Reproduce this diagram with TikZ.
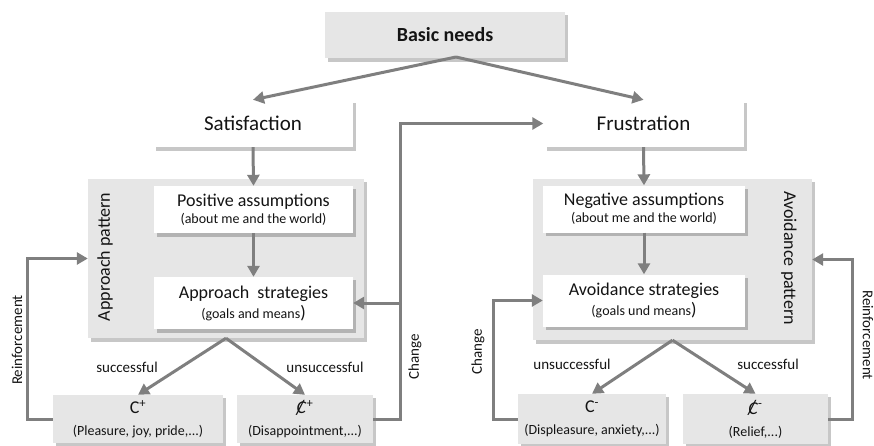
\documentclass[tikz,border=0pt]{standalone}
\usepackage{fontspec}
\setmainfont{Carlito}
\usepackage{graphicx}
\usetikzlibrary{arrows.meta,calc}
\definecolor{arrgray}{HTML}{7F7F7F}
\definecolor{boxgray}{HTML}{E6E6E6}
\definecolor{txt}{HTML}{141414}
\newcommand\crossedC[1]{\makebox[0pt][l]{\hspace{-0.05em}\raisebox{-0.05em}{\rotatebox{-6}{\scalebox{1.05}[1.2]{/}}}}\textit{C}\textsuperscript{#1}}
\newcommand\ttl{\fontsize{18}{20}\selectfont}
\newcommand\bigttl{\fontsize{21}{23}\selectfont}
\newcommand\sbt{\fontsize{14}{17}\selectfont}
% name, cx, cy, w, h, style, text
\newcommand\mkbox[7]{%
  \fill[black,opacity=0.22] ({#2-#4/2+3},{#3-#5/2+3}) rectangle ({#2+#4/2+3},{#3+#5/2+3.5});
  \node[#6,minimum width=#4pt,minimum height=#5pt] (#1) at (#2,#3) {#7};}
\tikzset{
  x=1pt,y=-1pt,
  graybox/.style={fill=boxgray,draw=none,inner sep=0pt,align=center,text=txt,font=\sbt},
  whitebox/.style={fill=white,draw=none,inner sep=0pt,align=center,text=txt,font=\sbt},
  arr/.style={draw=arrgray,line width=3pt,-{Triangle[length=11pt,width=12pt]}},
  lbl/.style={text=txt,inner sep=0pt,font=\fontsize{15}{17}\selectfont},
}
\begin{document}
\begin{tikzpicture}
\useasboundingbox (0,0) rectangle (874,445);
% top
\mkbox{basic}{445}{35}{240}{46}{graybox,font=\fontsize{20}{22}\selectfont\bfseries}{Basic needs}
\mkbox{sat}{253}{123.5}{200}{47}{whitebox,font=\bigttl}{Satisfaction}
\mkbox{fru}{643.5}{123.5}{200}{47}{whitebox,font=\bigttl}{Frustration}
% pattern boxes
\mkbox{lpat}{226}{258.5}{276}{159}{graybox}{}
\mkbox{rpat}{672.5}{259.5}{279}{161}{graybox}{}
\node[lbl,rotate=90,font=\ttl] (lpatl) at (105,257) {Approach pattern};
\node[lbl,rotate=-90,font=\ttl] (rpatl) at (789,258) {Avoidance pattern};
% inner boxes
\mkbox{pos}{253.5}{209.5}{199}{47}{whitebox}{{\ttl Positive assumptions}\\[0pt]{(about me and the world)}}
\mkbox{appr}{253.5}{303}{199}{52}{whitebox}{{\ttl Approach\ \ strategies}\\[3pt]{(goals and means}{\ttl)}}
\mkbox{neg}{644}{209}{202}{47}{whitebox}{{\ttl Negative assumptions}\\[0pt]{(about me and the world)}}
\mkbox{avo}{644}{300.5}{202}{52}{whitebox}{{\ttl Avoidance strategies}\\[3pt]{(goals und means}{\ttl)}}
% bottom boxes
\mkbox{cplus}{138}{419}{170}{48}{graybox}{{\ttl C\textsuperscript{+}}\\[5pt]{(Pleasure, joy, pride,...)}}
\mkbox{cnplus}{305}{419}{136}{48}{graybox}{{\ttl \crossedC{+}}\\[5pt]{(Disappointment,...)}}
\mkbox{cminus}{592}{419}{148}{50}{graybox}{{\ttl C\textsuperscript{-}}\\[5pt]{(Displeasure, anxiety,...)}}
\mkbox{cnminus}{755.5}{419}{145}{50}{graybox}{{\ttl \crossedC{-}}\\[5pt]{(Relief,...)}}
% arrows top
\coordinate (bn) at (456,57);
\draw[arr] (bn) -- (sat.north);
\draw[arr] (bn) -- (fru.north);
\draw[arr] (sat.south) -- (pos.north);
\draw[arr] (fru.south) -- (neg.north);
\draw[arr] (pos.south) -- (appr.north);
\draw[arr] (neg.south) -- (avo.north);
% outcome arrows
\draw[arr] (lpat.south) -- (cplus.north);
\draw[arr] (lpat.south) -- (cnplus.north);
\draw[arr] (rpat.south) -- (cminus.north);
\draw[arr] (rpat.south) -- (cnminus.north);
\node[lbl] (l1) at (127,367) {successful};
\node[lbl] (l2) at (325,367) {unsuccessful};
\node[lbl] (l3) at (572,364) {unsuccessful};
\node[lbl] (l4) at (768,364) {successful};
% feedback loops
\draw[arr] (cplus.west) -- ++(-25,0) |- (lpat.west);
\coordinate (chg) at (400,303);
\draw[arr] (cnplus.east) -- (chg |- cnplus.east) |- (fru.west);
\draw[arr] (chg) -- (appr.east);
\draw[arr] (cminus.west) -- ++(-24,0) |- (avo.west);
\draw[arr] (cnminus.east) -- ++(24,0) |- (rpat.east);
\node[lbl,rotate=90] (r1) at (17,340) {Reinforcement};
\node[lbl,rotate=-90] (r2) at (868,335) {Reinforcement};
\node[lbl,rotate=90] (c1) at (415,357) {Change};
\node[lbl,rotate=90] (c2) at (478,352) {Change};
\end{tikzpicture}
\end{document}
